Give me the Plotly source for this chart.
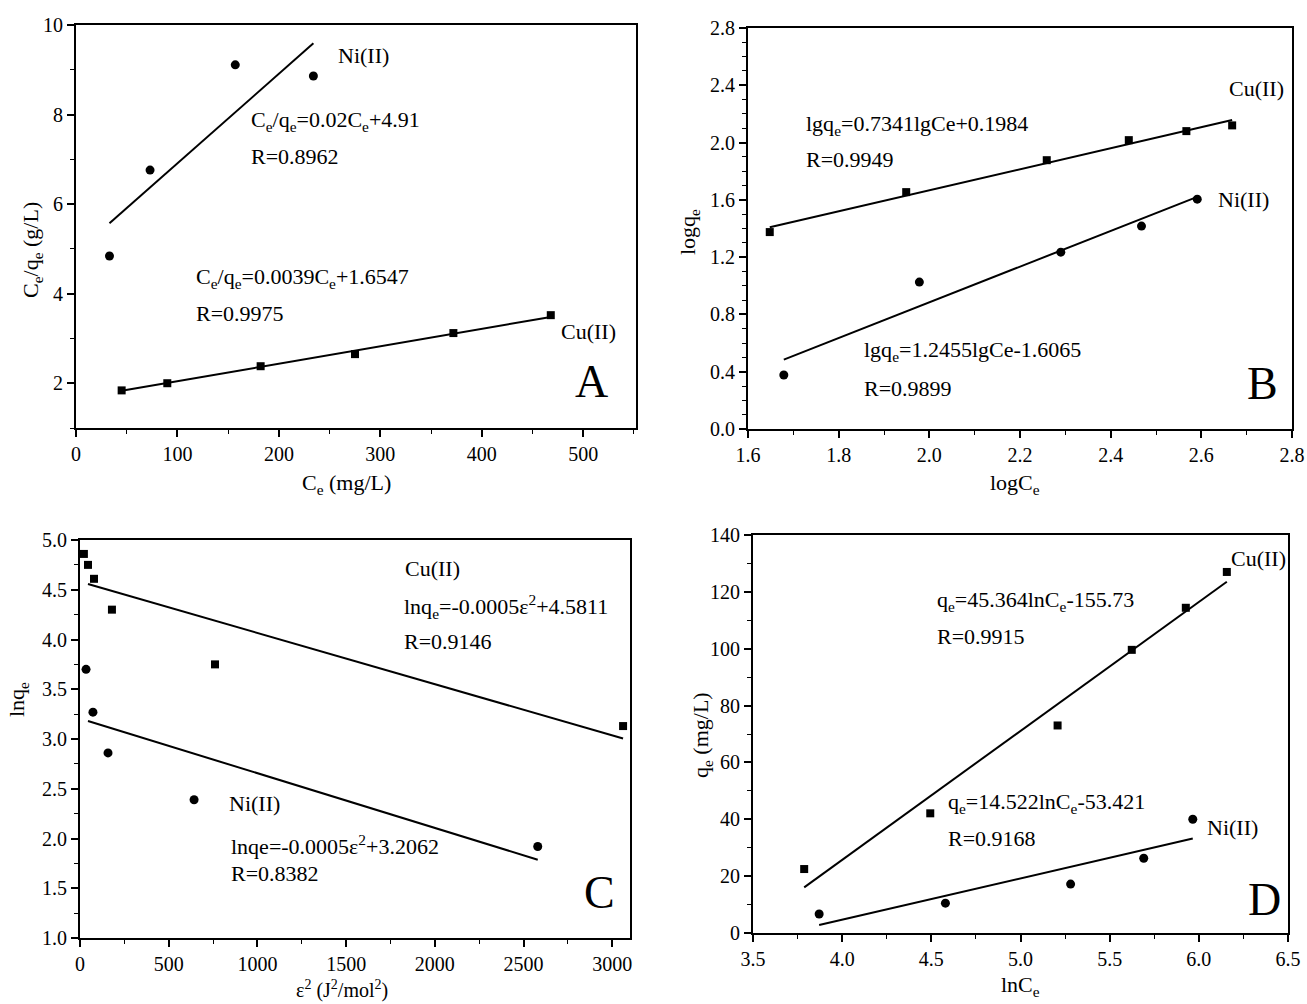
import plotly.graph_objects as go

W, H = 1307, 1004
FONT = "Liberation Serif"

# ---------------- data ----------------
# Panel A (Langmuir)
a_cu_x = [45, 90, 182, 275, 372, 468]
a_cu_y = [1.84, 2.00, 2.38, 2.65, 3.12, 3.52]
a_ni_x = [33, 73, 157, 234]
a_ni_y = [4.84, 6.76, 9.11, 8.86]
a_cu_fit = [0.0039, 1.6547]
a_ni_fit = [0.02, 4.91]

# Panel B (Freundlich)
b_cu_x = [1.648, 1.949, 2.259, 2.440, 2.567, 2.668]
b_cu_y = [1.375, 1.654, 1.877, 2.017, 2.080, 2.120]
b_ni_x = [1.679, 1.978, 2.290, 2.468, 2.591]
b_ni_y = [0.377, 1.026, 1.235, 1.417, 1.605]
b_cu_fit = [0.7341, 0.1984]
b_ni_fit = [1.2455, -1.6065]

# Panel C (D-R)
c_cu_x = [22, 45, 79, 180, 761, 3061]
c_cu_y = [4.86, 4.75, 4.61, 4.30, 3.75, 3.13]
c_ni_x = [34, 73, 158, 643, 2580]
c_ni_y = [3.70, 3.27, 2.86, 2.39, 1.92]
c_cu_fit = [-0.000515, 4.5811]
c_ni_fit = [-0.00055, 3.2062]

# Panel D (Temkin)
d_cu_x = [3.787, 4.494, 5.208, 5.624, 5.927, 6.157]
d_cu_y = [22.5, 42.1, 73.0, 99.6, 114.4, 127.0]
d_ni_x = [3.871, 4.579, 5.281, 5.691, 5.966]
d_ni_y = [6.7, 10.5, 17.2, 26.3, 40.0]
d_cu_fit = [45.364, -155.73]
d_ni_fit = [14.522, -53.421]

fig = go.Figure()

def px(x):
    return x / W

def py(y):
    return 1 - y / H

def add_panel(n, cux, cuy, nix, niy, cufit, nifit, cu_range, ni_range):
    xa = "x" if n == 1 else f"x{n}"
    ya = "y" if n == 1 else f"y{n}"
    for (xs, ys, sym, size) in [(cux, cuy, "square", 8), (nix, niy, "circle", 9)]:
        fig.add_trace(go.Scatter(x=xs, y=ys, mode="markers", xaxis=xa, yaxis=ya,
                                 marker=dict(symbol=sym, size=size, color="black"),
                                 showlegend=False, hoverinfo="skip"))
    for fit, rng in [(cufit, cu_range), (nifit, ni_range)]:
        xs = [rng[0], rng[1]]
        ys = [fit[0] * v + fit[1] for v in xs]
        fig.add_trace(go.Scatter(x=xs, y=ys, mode="lines", xaxis=xa, yaxis=ya,
                                 line=dict(color="black", width=2),
                                 showlegend=False, hoverinfo="skip"))

add_panel(1, a_cu_x, a_cu_y, a_ni_x, a_ni_y, a_cu_fit, a_ni_fit,
          (a_cu_x[0], a_cu_x[-1]), (a_ni_x[0], a_ni_x[-1]))
add_panel(2, b_cu_x, b_cu_y, b_ni_x, b_ni_y, b_cu_fit, b_ni_fit,
          (b_cu_x[0], b_cu_x[-1]), (b_ni_x[0], b_ni_x[-1]))
add_panel(3, c_cu_x, c_cu_y, c_ni_x, c_ni_y, c_cu_fit, c_ni_fit,
          (c_cu_x[1], c_cu_x[-1]), (c_ni_x[1] - 28, c_ni_x[-1]))
add_panel(4, d_cu_x, d_cu_y, d_ni_x, d_ni_y, d_cu_fit, d_ni_fit,
          (d_cu_x[0], d_cu_x[-1]), (d_ni_x[0], d_ni_x[-1]))

tickfont = dict(family=FONT, size=20, color="black")

def axis(domain, rng, dtick, minor_dtick, anchor, tick0=None, fmt=None):
    d = dict(domain=domain, range=rng, dtick=dtick, showgrid=False, zeroline=False,
             showline=True, linecolor="black", linewidth=2, mirror=True,
             ticks="outside", ticklen=7, tickwidth=1.5, tickcolor="black",
             tickfont=tickfont, anchor=anchor, automargin=False,
             minor=dict(ticks="outside", ticklen=4, tickwidth=1, tickcolor="black",
                        dtick=minor_dtick, showgrid=False))
    if tick0 is not None:
        d["tick0"] = tick0
    if fmt is not None:
        d["tickformat"] = fmt
    return d

fig.update_layout(
    width=W, height=H, margin=dict(l=0, r=0, t=0, b=0, autoexpand=False),
    paper_bgcolor="white", plot_bgcolor="white",
    font=dict(family=FONT, size=20, color="black"),
    xaxis=axis([px(76), px(636)], [0, 552], 100, 50, "y"),
    yaxis=axis([py(428), py(25)], [1, 10], 2, 1, "x", tick0=0),
    xaxis2=axis([px(748), px(1292)], [1.6, 2.8], 0.2, 0.1, "y2", fmt=".1f"),
    yaxis2=axis([py(429), py(28)], [0, 2.8], 0.4, 0.1, "x2", tick0=0, fmt=".1f"),
    xaxis3=axis([px(80), px(630)], [0, 3100], 500, 250, "y3"),
    yaxis3=axis([py(938), py(540)], [1, 5], 0.5, 0.25, "x3", fmt=".1f"),
    xaxis4=axis([px(753), px(1288)], [3.5, 6.5], 0.5, 0.25, "y4", fmt=".1f"),
    yaxis4=axis([py(933), py(535)], [0, 140], 20, 10, "x4"),
)

ann = []

def text(x, y, s, size=22, xanchor="left", angle=0, yanchor="middle"):
    ann.append(dict(x=px(x), y=py(y), xref="paper", yref="paper", text=s,
                    showarrow=False, xanchor=xanchor, yanchor=yanchor, textangle=angle,
                    font=dict(family=FONT, size=size, color="black")))

# Panel A
text(336, 56, "Ni(II)")
text(249, 121, "C<sub>e</sub>/q<sub>e</sub>=0.02C<sub>e</sub>+4.91")
text(249, 157, "R=0.8962")
text(194, 278, "C<sub>e</sub>/q<sub>e</sub>=0.0039C<sub>e</sub>+1.6547")
text(194, 314, "R=0.9975")
text(559, 332, "Cu(II)")
text(573, 381, "A", size=46)
text(32, 250, "C<sub>e</sub>/q<sub>e</sub> (g/L)", angle=-90, xanchor="center")
text(346, 484, "C<sub>e</sub> (mg/L)", xanchor="center")

# Panel B
text(1227, 88, "Cu(II)")
text(804, 125, "lgq<sub>e</sub>=0.7341lgCe+0.1984")
text(804, 160, "R=0.9949")
text(1216, 199, "Ni(II)")
text(862, 351, "lgq<sub>e</sub>=1.2455lgCe-1.6065")
text(862, 388, "R=0.9899")
text(1245, 383, "B", size=46)
text(689, 232, "logq<sub>e</sub>", angle=-90, xanchor="center")
text(1015, 484, "logC<sub>e</sub>", xanchor="center")

# Panel C
text(403, 568, "Cu(II)")
text(402, 606, "lnq<sub>e</sub>=-0.0005ε<sup>2</sup>+4.5811")
text(402, 641, "R=0.9146")
text(227, 803, "Ni(II)")
text(229, 845, "lnqe=-0.0005ε<sup>2</sup>+3.2062")
text(229, 873, "R=0.8382")
text(582, 892, "C", size=46)
text(18, 700, "lnq<sub>e</sub>", angle=-90, xanchor="center")
text(342, 1004, "ε<sup>2</sup> (J<sup>2</sup>/mol<sup>2</sup>)", size=20, xanchor="center", yanchor="bottom")

# Panel D
text(1229, 558, "Cu(II)")
text(935, 601, "q<sub>e</sub>=45.364lnC<sub>e</sub>-155.73")
text(935, 636, "R=0.9915")
text(946, 803, "q<sub>e</sub>=14.522lnC<sub>e</sub>-53.421")
text(946, 838, "R=0.9168")
text(1205, 827, "Ni(II)")
text(1246, 899, "D", size=46)
text(702, 735, "q<sub>e</sub> (mg/L)", angle=-90, xanchor="center")
text(1020, 1002, "lnC<sub>e</sub>", xanchor="center", yanchor="bottom")

fig.update_layout(annotations=ann)
fig.write_html("out.html")
